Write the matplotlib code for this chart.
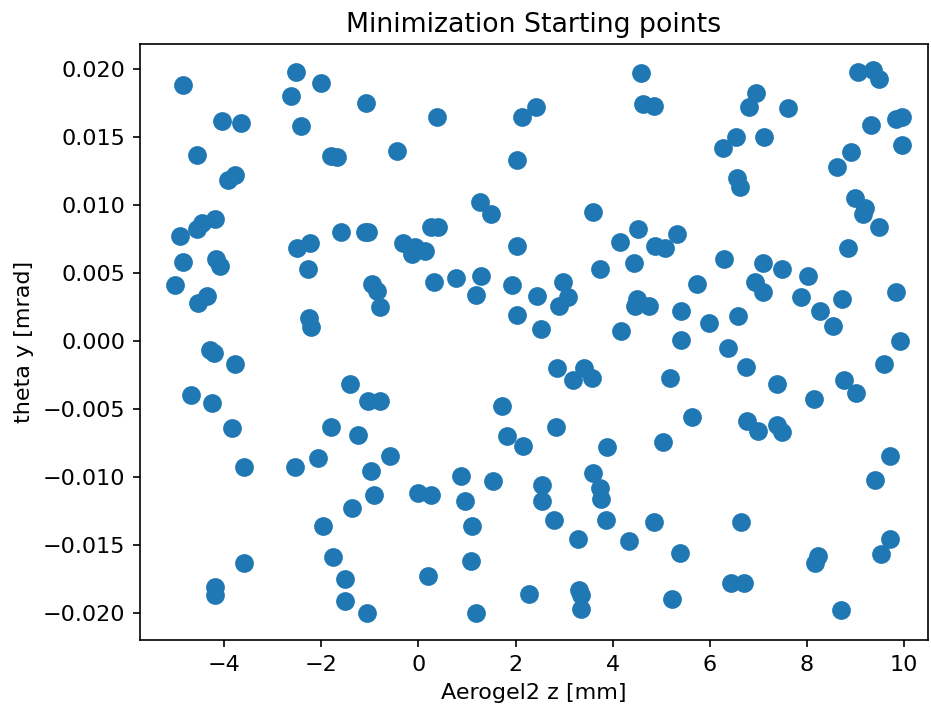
import matplotlib
matplotlib.use("Agg")
import matplotlib.pyplot as plt

x_vals = [
    -4.84, -4.56, -4.04, -3.66, -3.77, -3.91, -4.18, -4.46, -4.56, -4.90,
    -4.84, -4.17, -4.08, -5.01, -4.36, -4.53, -4.29, -4.21, -3.77, -4.69,
    -4.25, -3.83, -3.58, -3.58, -4.19, -4.19,
    -2.52, -2.00, -2.62, -2.41, -1.80, -1.68, -2.23, -2.50, -1.60, -2.28,
    -2.25, -2.22, -1.80, -2.54, -2.07, -1.96, -1.76, -1.52, -1.52, -1.41,
    -1.37, -1.25, -1.08, -1.10, -1.03, -0.96, -0.86, -0.79, -1.03, -0.80,
    -0.98, -0.91, -1.06, -0.58, -0.45, -0.31, -0.07, -0.14, 0.14, 0.26,
    0.41, 0.39, 0.33, 0.77, 1.29, 1.19, 1.26, 1.50, 0.00, 0.25,
    0.87, 0.96, 1.10, 1.54, 0.19, 1.08, 1.19, 1.72, 1.82, 2.16,
    2.55, 2.54, 2.27, 1.93, 2.44, 2.03, 2.53, 2.03, 2.13, 2.42,
    2.04, 3.59, 4.58, 4.63, 4.84, 6.27, 6.54, 6.55, 6.61, 4.52,
    4.15, 5.32, 4.87, 5.08, 6.29, 3.74, 4.43, 2.97, 3.07, 2.90,
    4.50, 4.46, 4.74, 5.74, 5.41, 5.99, 5.41, 6.37, 4.17, 2.85,
    3.40, 3.19, 3.58, 5.18, 5.63, 2.83, 5.03, 3.89, 3.60, 3.74,
    3.75, 2.80, 3.86, 4.84, 3.28, 4.34, 5.39, 6.44, 6.71, 3.31,
    3.34, 3.35, 5.22,
    9.05, 9.36, 9.49, 6.95, 6.80, 7.60, 9.83, 9.95, 9.31, 7.12,
    9.95, 8.90, 8.61, 8.98, 9.20, 9.16, 9.49, 8.85, 7.10, 7.48,
    8.02, 6.93, 7.09, 7.88, 8.72, 8.27, 8.54, 9.83, 6.58, 9.92,
    6.74, 9.59, 7.39, 8.77, 9.01, 8.15, 6.76, 7.00, 7.39, 7.49,
    9.71, 9.39, 6.64, 9.70, 9.52, 8.22, 8.17, 8.70,
]

theta_y = [
    0.0188, 0.0137, 0.0162, 0.0160, 0.0122, 0.0118, 0.0090, 0.0087, 0.0082, 0.0077,
    0.0058, 0.0060, 0.0055, 0.0041, 0.0033, 0.0028, -0.0007, -0.0009, -0.0017, -0.0040,
    -0.0046, -0.0064, -0.0093, -0.0163, -0.0181, -0.0187,
    0.0198, 0.0190, 0.0180, 0.0158, 0.0136, 0.0135, 0.0072, 0.0068, 0.0080, 0.0053,
    0.0017, 0.0010, -0.0063, -0.0093, -0.0086, -0.0136, -0.0159, -0.0175, -0.0191, -0.0032,
    -0.0123, -0.0069, 0.0175, 0.0080, 0.0080, 0.0042, 0.0037, 0.0025, -0.0044, -0.0044,
    -0.0096, -0.0113, -0.0200, -0.0085, 0.0140, 0.0072, 0.0069, 0.0064, 0.0066, 0.0084,
    0.0084, 0.0165, 0.0043, 0.0046, 0.0048, 0.0034, 0.0102, 0.0093, -0.0112, -0.0113,
    -0.0099, -0.0118, -0.0136, -0.0103, -0.0173, -0.0162, -0.0200, -0.0048, -0.0070, -0.0077,
    -0.0106, -0.0118, -0.0186, 0.0041, 0.0033, 0.0019, 0.0009, 0.0070, 0.0165, 0.0172,
    0.0133, 0.0095, 0.0197, 0.0174, 0.0173, 0.0142, 0.0150, 0.0120, 0.0113, 0.0082,
    0.0073, 0.0079, 0.0070, 0.0068, 0.0060, 0.0053, 0.0057, 0.0043, 0.0032, 0.0026,
    0.0031, 0.0026, 0.0026, 0.0042, 0.0022, 0.0013, 0.0001, -0.0005, 0.0007, -0.0020,
    -0.0020, -0.0029, -0.0027, -0.0027, -0.0056, -0.0063, -0.0074, -0.0078, -0.0097, -0.0108,
    -0.0116, -0.0132, -0.0132, -0.0133, -0.0146, -0.0147, -0.0156, -0.0178, -0.0178, -0.0183,
    -0.0187, -0.0197, -0.0190,
    0.0198, 0.0199, 0.0193, 0.0182, 0.0172, 0.0171, 0.0163, 0.0165, 0.0159, 0.0150,
    0.0144, 0.0139, 0.0128, 0.0105, 0.0098, 0.0093, 0.0084, 0.0068, 0.0057, 0.0053,
    0.0048, 0.0043, 0.0036, 0.0032, 0.0031, 0.0022, 0.0011, 0.0036, 0.0018, 0.0000,
    -0.0019, -0.0017, -0.0032, -0.0029, -0.0038, -0.0043, -0.0059, -0.0066, -0.0062, -0.0067,
    -0.0085, -0.0102, -0.0133, -0.0146, -0.0157, -0.0158, -0.0163, -0.0198,
]

title = "Minimization Starting points"
x_label = "Aerogel2 z [mm]"
y_label = "theta y [mrad]"

plt.rcParams["font.size"] = 10.7

fig = plt.figure(figsize=(932 / 150, 708 / 150), dpi=150)
ax = fig.add_axes([140 / 932, 68 / 708, 788 / 932, 596 / 708])
ax.scatter(x_vals, theta_y, s=64, color="#1f77b4")
ax.set_xlim(-5.73, 10.49)
ax.set_ylim(-0.0220, 0.02184)
ax.set_title(title, fontsize=12.85)
ax.set_xlabel(x_label)
ax.set_ylabel(y_label)
fig.savefig("out.png", dpi=150)
